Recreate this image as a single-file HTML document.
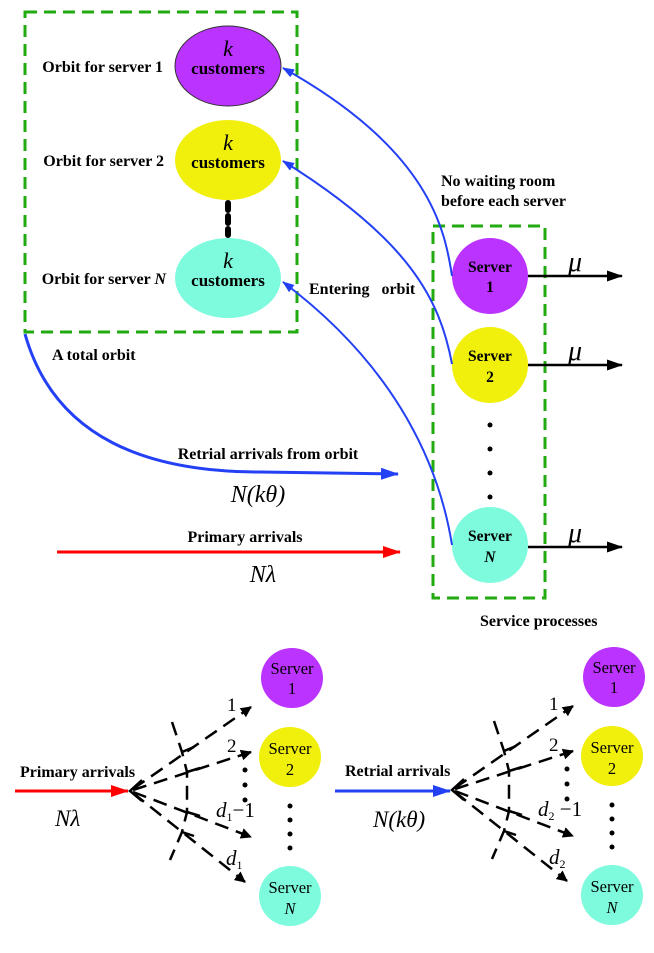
<!DOCTYPE html>
<html><head><meta charset="utf-8"><style>
body{margin:0;background:#fff}
svg text{font-family:"Liberation Serif",serif}
.b{font-weight:bold;font-size:16px}
.i{font-style:italic}
</style></head><body>
<svg width="654" height="948" viewBox="0 0 654 948" xmlns="http://www.w3.org/2000/svg">
<defs>
<marker id="ab" markerWidth="12" markerHeight="9" refX="11" refY="4.5" orient="auto" markerUnits="userSpaceOnUse"><path d="M0,0 L12,4.5 L0,9 Z" fill="#2340f5"/></marker>
<marker id="ak" markerWidth="16" markerHeight="11" refX="15" refY="5.5" orient="auto" markerUnits="userSpaceOnUse"><path d="M0,0 L16,5.5 L0,11 Z" fill="#000"/></marker>
<marker id="ar" markerWidth="18" markerHeight="12" refX="17" refY="6" orient="auto" markerUnits="userSpaceOnUse"><path d="M0,0 L18,6 L0,12 Z" fill="#f00"/></marker>
<marker id="abb" markerWidth="18" markerHeight="12" refX="17" refY="6" orient="auto" markerUnits="userSpaceOnUse"><path d="M0,0 L18,6 L0,12 Z" fill="#2340f5"/></marker>
<marker id="ad" markerWidth="11" markerHeight="11" refX="10" refY="5.5" orient="auto" markerUnits="userSpaceOnUse"><path d="M0,0 L11,5.5 L0,11 Z" fill="#000"/></marker>
</defs>
<rect x="25" y="12" width="272" height="320" fill="none" stroke="#22aa11" stroke-width="3" stroke-dasharray="12,7"/>
<ellipse cx="228" cy="66" rx="53" ry="40" fill="#bb33ff" stroke="#333" stroke-width="1"/>
<ellipse cx="228" cy="160" rx="53" ry="40" fill="#f0f00c"/>
<ellipse cx="228" cy="278" rx="53" ry="40" fill="#7dfbdc"/>
<line x1="228" y1="203" x2="228" y2="235" stroke="#000" stroke-width="6" stroke-dasharray="7,6" stroke-linecap="round"/>
<g text-anchor="middle">
<text x="228" y="56" font-size="22" class="i">k</text><text x="228" y="74" font-weight="bold" font-size="17">customers</text>
<text x="228" y="150" font-size="22" class="i">k</text><text x="228" y="168" font-weight="bold" font-size="17">customers</text>
<text x="228" y="268" font-size="22" class="i">k</text><text x="228" y="286" font-weight="bold" font-size="17">customers</text>
</g>
<g text-anchor="end">
<text x="163" y="72" class="b">Orbit for server 1</text>
<text x="164" y="166" class="b">Orbit for server 2</text>
<text x="166" y="284" class="b">Orbit for server <tspan class="i">N</tspan></text>
</g>
<text x="52" y="360" class="b">A total orbit</text>
<text x="309" y="294" class="b">Entering&#160;&#160; orbit</text>
<text x="441" y="186" class="b">No waiting room</text>
<text x="441" y="206" class="b">before each server</text>
<text x="480" y="626" class="b">Service processes</text>
<rect x="433" y="226" width="112" height="372" fill="none" stroke="#22aa11" stroke-width="3" stroke-dasharray="12,7"/>
<circle cx="490" cy="276" r="38" fill="#bb33ff"/>
<circle cx="490" cy="365" r="38" fill="#f0f00c"/>
<circle cx="490" cy="545" r="38" fill="#7dfbdc"/>
<g text-anchor="middle" font-size="15.5" font-weight="bold">
<text x="490" y="272">Server</text><text x="490" y="292">1</text>
<text x="490" y="361">Server</text><text x="490" y="382">2</text>
<text x="490" y="541">Server</text><text x="490" y="562" font-style="italic">N</text>
</g>
<g fill="#000"><circle cx="490" cy="425" r="2.5"/><circle cx="490" cy="449" r="2.5"/><circle cx="490" cy="473" r="2.5"/><circle cx="490" cy="497" r="2.5"/></g>
<line x1="528" y1="276" x2="622" y2="276" stroke="#000" stroke-width="2.5" marker-end="url(#ak)"/>
<line x1="528" y1="365" x2="622" y2="365" stroke="#000" stroke-width="2.5" marker-end="url(#ak)"/>
<line x1="528" y1="547" x2="622" y2="547" stroke="#000" stroke-width="2.5" marker-end="url(#ak)"/>
<text x="568" y="271" font-size="28" class="i">μ</text>
<text x="568" y="360" font-size="28" class="i">μ</text>
<text x="568" y="542" font-size="28" class="i">μ</text>
<path d="M452,276 C445,230 430,150 283,68" fill="none" stroke="#2340f5" stroke-width="2" marker-end="url(#ab)"/>
<path d="M452,364 C440,300 410,240 283,161" fill="none" stroke="#2340f5" stroke-width="2" marker-end="url(#ab)"/>
<path d="M452,545 C440,470 400,370 283,282" fill="none" stroke="#2340f5" stroke-width="2" marker-end="url(#ab)"/>
<path d="M25,334 C55,440 150,472 260,472 L398,474" fill="none" stroke="#2340f5" stroke-width="3" marker-end="url(#abb)"/>
<text x="268" y="459" class="b" text-anchor="middle">Retrial arrivals from orbit</text>
<text x="258" y="502" font-size="24" text-anchor="middle" class="i">N(kθ)</text>
<line x1="57" y1="552" x2="400" y2="552" stroke="#f00" stroke-width="3" marker-end="url(#ar)"/>
<text x="245" y="542" class="b" text-anchor="middle">Primary arrivals</text>
<text x="263" y="582" font-size="24" text-anchor="middle" class="i">Nλ</text>
<line x1="15" y1="791" x2="128" y2="791" stroke="#f00" stroke-width="3" marker-end="url(#ar)"/>
<text x="20" y="777" class="b">Primary arrivals</text>
<text x="55" y="826" font-size="23" class="i">Nλ</text>
<line x1="335" y1="791" x2="450" y2="791" stroke="#2340f5" stroke-width="3" marker-end="url(#abb)"/>
<text x="345" y="776" class="b">Retrial arrivals</text>
<text x="373" y="827" font-size="23" class="i">N(kθ)</text>
<g id="fan">
<g stroke="#000" stroke-width="2.5" fill="none" stroke-dasharray="14,8">
<line x1="133" y1="789" x2="251" y2="707" marker-end="url(#ad)"/>
<line x1="133" y1="790" x2="251" y2="752" marker-end="url(#ad)"/>
<line x1="133" y1="792" x2="251" y2="837" marker-end="url(#ad)"/>
<line x1="133" y1="793" x2="245" y2="882" marker-end="url(#ad)"/>
<path d="M172,722 L182,752 L187,772 L187,812 L182,832 L170,860"/>
</g>
<path d="M142,780 L130,791 L142,801" stroke="#000" stroke-width="2.5" fill="none"/>
<g stroke="#000" stroke-width="2.5"><line x1="182" y1="752" x2="194" y2="747"/><line x1="187" y1="772" x2="200" y2="768"/><line x1="187" y1="812" x2="200" y2="816"/><line x1="182" y1="832" x2="194" y2="836"/></g>
<g fill="#000"><circle cx="245" cy="770" r="2.5"/><circle cx="245" cy="785" r="2.5"/><circle cx="245" cy="800" r="2.5"/></g>
<g fill="#000"><circle cx="290" cy="806" r="2.5"/><circle cx="290" cy="820" r="2.5"/><circle cx="290" cy="834" r="2.5"/><circle cx="290" cy="848" r="2.5"/></g>
<text x="227" y="711" font-size="19">1</text>
<text x="227" y="752" font-size="19">2</text>
<ellipse cx="292" cy="678" rx="31" ry="30" fill="#bb33ff"/>
<ellipse cx="290" cy="757" rx="31" ry="30" fill="#f0f00c"/>
<ellipse cx="290" cy="896" rx="31" ry="30" fill="#7dfbdc"/>
<g text-anchor="middle" font-size="16.5">
<text x="292" y="674">Server</text><text x="292" y="694">1</text>
<text x="290" y="754">Server</text><text x="290" y="775">2</text>
<text x="290" y="893">Server</text><text x="290" y="914" class="i">N</text>
</g>
</g>
<text x="216" y="817" font-size="21" class="i">d<tspan font-size="12" dy="4" font-style="normal">1</tspan><tspan dy="-4" font-style="normal">−1</tspan></text>
<text x="226" y="865" font-size="21" class="i">d<tspan font-size="12" dy="4" font-style="normal">1</tspan></text>
<use href="#fan" transform="translate(322,-1)"/>
<text x="538" y="816" font-size="21" class="i">d<tspan font-size="12" dy="4" font-style="normal">2</tspan><tspan dy="-4" font-style="normal"> −1</tspan></text>
<text x="549" y="864" font-size="21" class="i">d<tspan font-size="12" dy="4" font-style="normal">2</tspan></text>
</svg>
</body></html>
